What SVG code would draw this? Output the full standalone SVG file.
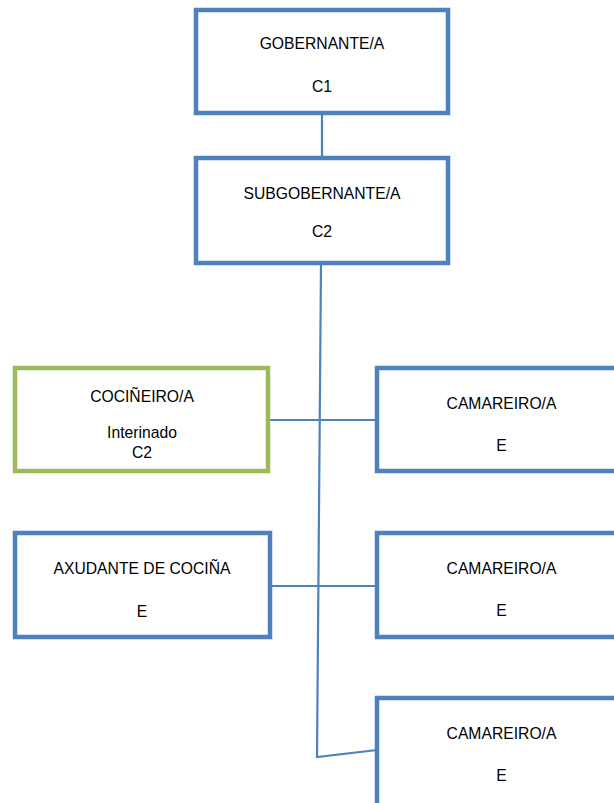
<svg xmlns="http://www.w3.org/2000/svg" width="614" height="803" viewBox="0 0 614 803">
<style>
.box{fill:#fff;stroke:#4F81BD;stroke-width:4.5}
.green{stroke:#9BBB59}
.t{font-family:"Liberation Sans",Arial,sans-serif;font-size:15.7px;fill:#000;text-anchor:middle}
.c{fill:none;stroke:#4F81BD;stroke-width:2.2}
</style>
<rect width="614" height="803" fill="#fff"/>
<g id="connectors">
<line class="c" x1="322" y1="113" x2="322" y2="158"/>
<polyline class="c" points="321,263 317,757 377,750"/>
<line class="c" x1="268" y1="420" x2="377" y2="420"/>
<line class="c" x1="270" y1="586" x2="377" y2="586"/>
</g>
<g id="gobernante">
<rect class="box" x="196" y="10" width="252" height="103"/>
<text class="t" x="322" y="48.5">GOBERNANTE/A</text>
<text class="t" x="322" y="91.5">C1</text>
</g>
<g id="subgobernante">
<rect class="box" x="196" y="158" width="252" height="105"/>
<text class="t" x="322" y="199">SUBGOBERNANTE/A</text>
<text class="t" x="322" y="236.5">C2</text>
</g>
<g id="cocineiro">
<rect class="box green" x="15" y="368" width="253" height="103"/>
<text class="t" x="142" y="402">COCIÑEIRO/A</text>
<text class="t" x="142" y="438">Interinado</text>
<text class="t" x="142" y="458">C2</text>
</g>
<g id="camareiro1">
<rect class="box" x="377" y="368" width="250" height="103"/>
<text class="t" x="501.5" y="409">CAMAREIRO/A</text>
<text class="t" x="501.5" y="450.5">E</text>
</g>
<g id="axudante">
<rect class="box" x="15" y="533" width="255" height="104"/>
<text class="t" x="142" y="574">AXUDANTE DE COCIÑA</text>
<text class="t" x="142" y="616.5">E</text>
</g>
<g id="camareiro2">
<rect class="box" x="377" y="533" width="250" height="104"/>
<text class="t" x="501.5" y="574">CAMAREIRO/A</text>
<text class="t" x="501.5" y="616">E</text>
</g>
<g id="camareiro3">
<rect class="box" x="377" y="698" width="250" height="110"/>
<text class="t" x="501.5" y="739">CAMAREIRO/A</text>
<text class="t" x="501.5" y="781">E</text>
</g>
</svg>
